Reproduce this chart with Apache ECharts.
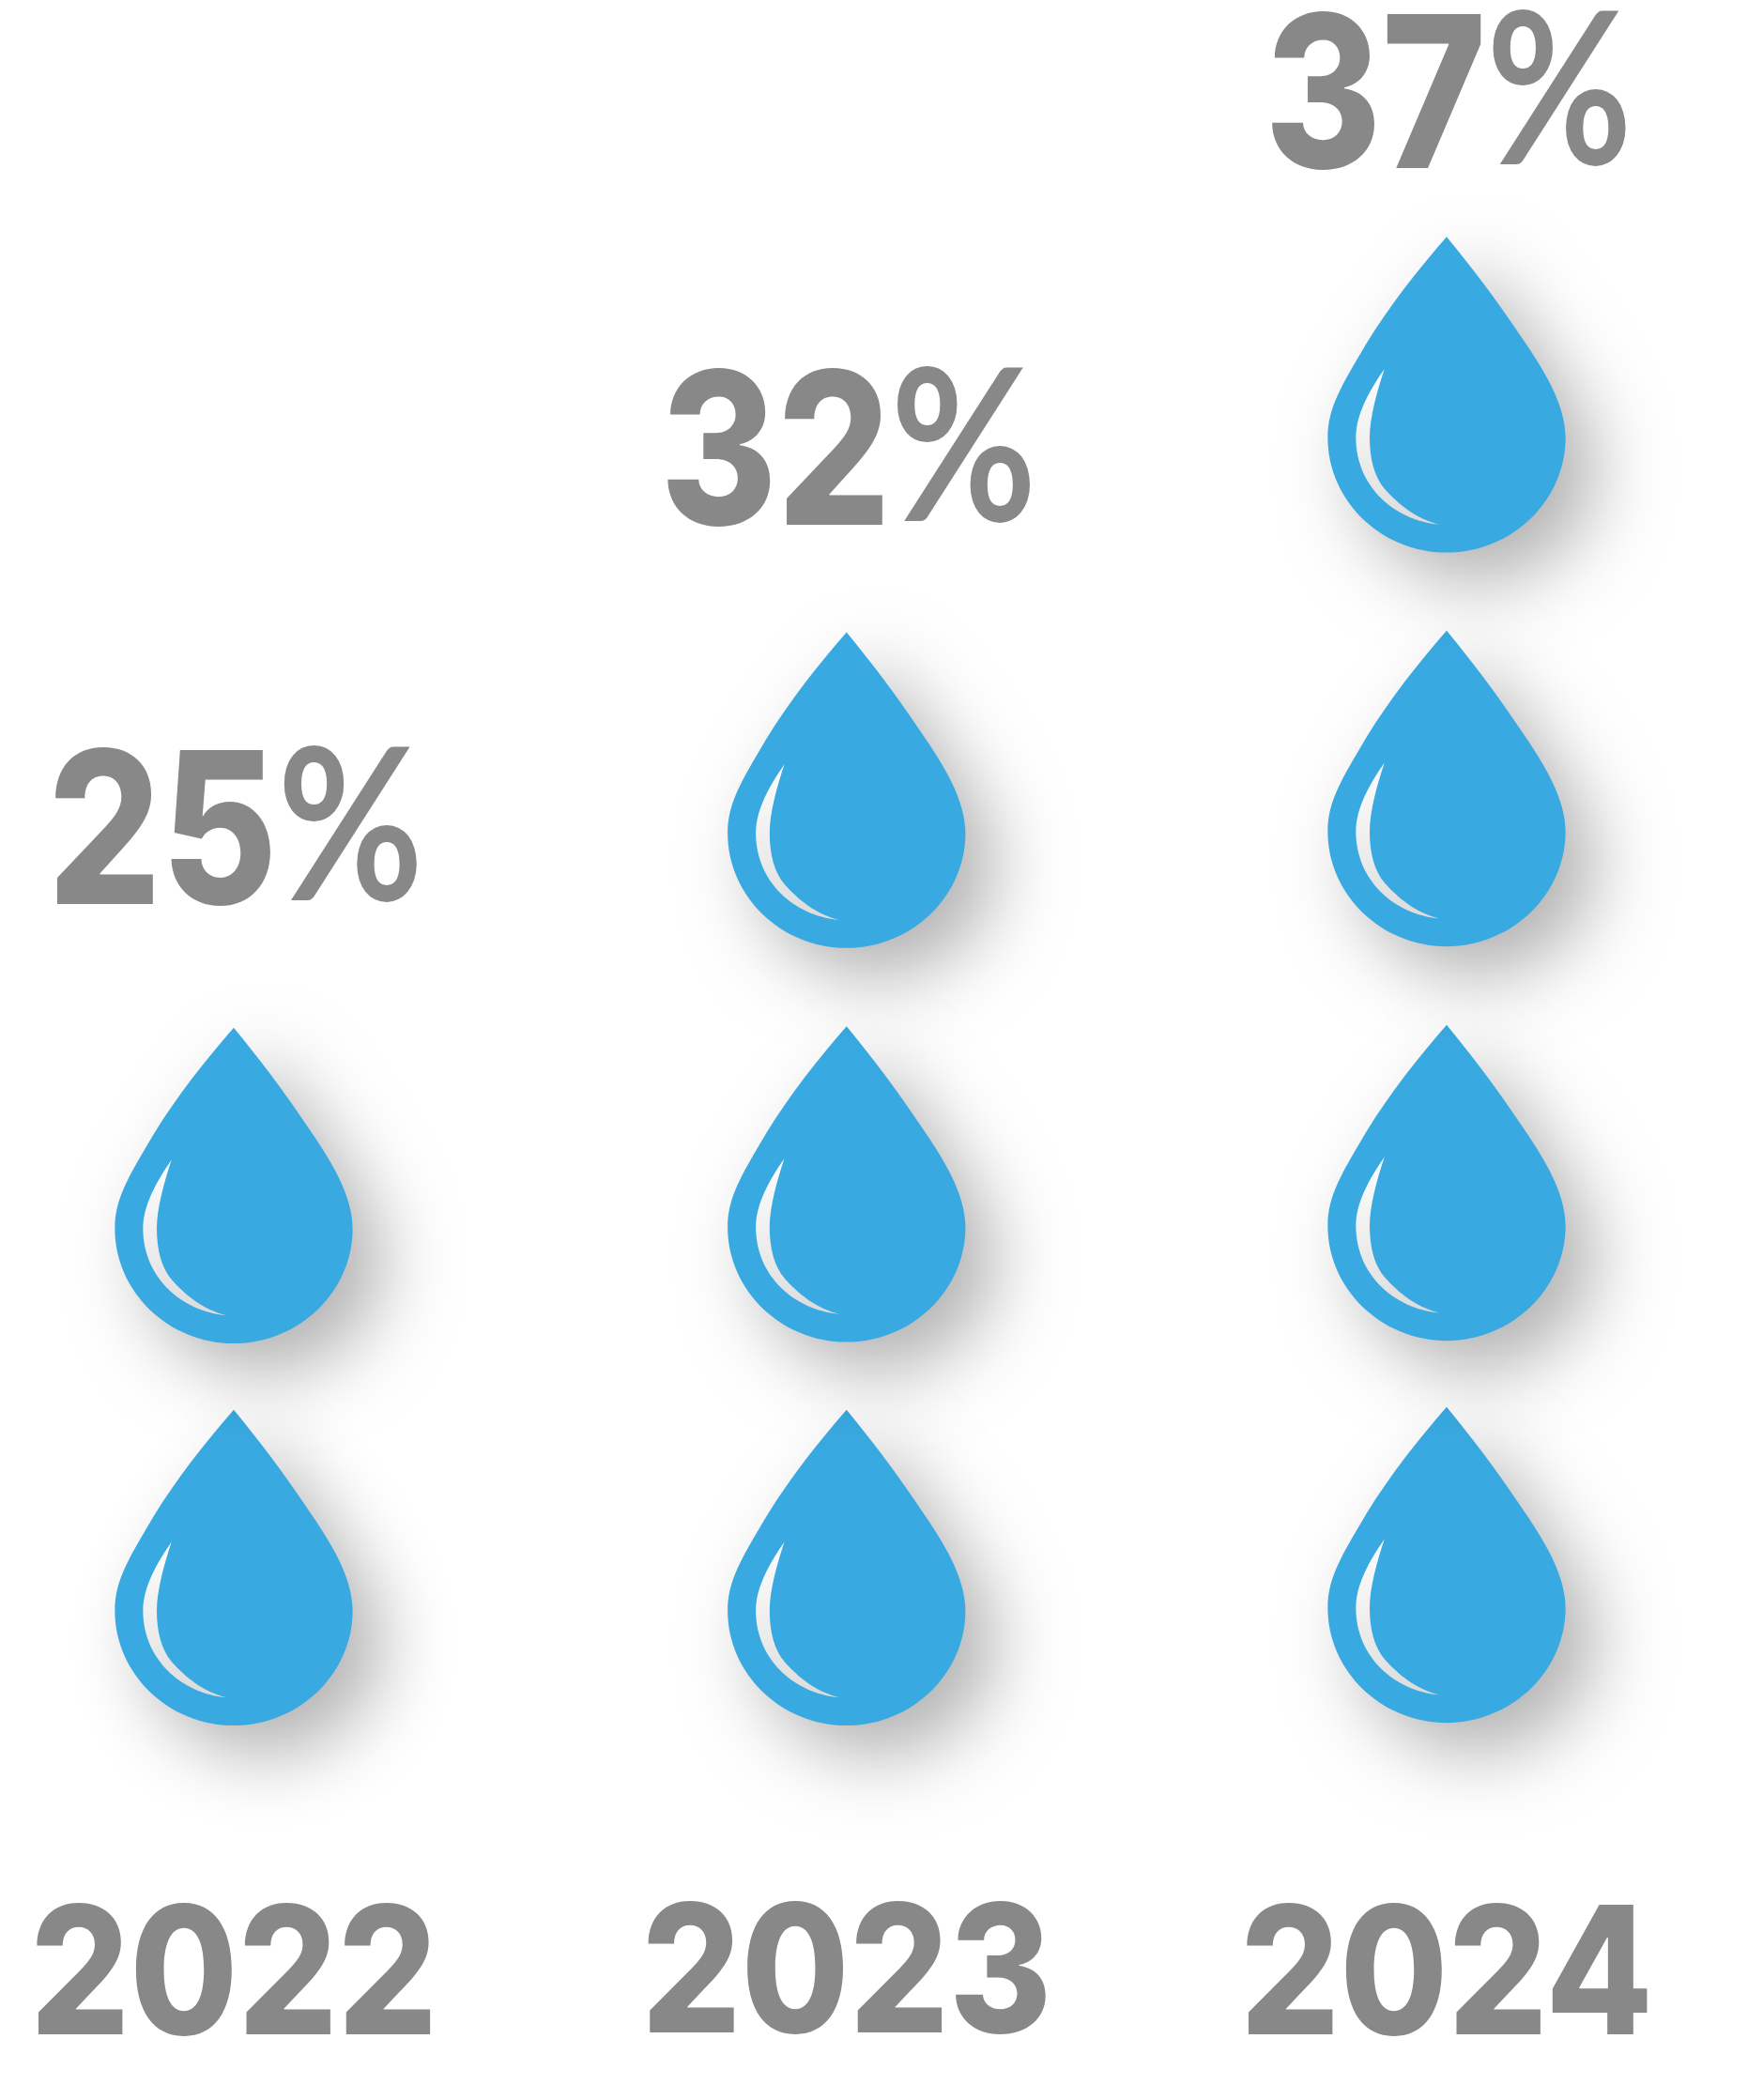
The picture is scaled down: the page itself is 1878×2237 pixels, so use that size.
<!DOCTYPE html>
<html><head><meta charset="utf-8">
<style>html,body{margin:0;padding:0;background:#fff}#c{width:1878px;height:2237px}</style>
<script src="https://cdn.jsdelivr.net/npm/echarts@6/dist/echarts.min.js"></script>
</head><body><div id="c"></div>
<script>
const years = ['2022','2023','2024'];
const percents = [25,32,37];
const columnCenters = [0,1.0105,2];
const dropLevels2022 = [0,1];
const dropLevels2023 = [0,1.0035,2.035];
const dropLevels2024 = [0.007,1.007,2.039,3.07];
const dropLevels = [dropLevels2022,dropLevels2023,dropLevels2024];
const percentLabelLevels = [2.316,3.31,4.244];
const yearLabelLevels = [-0.667,-0.664,-0.667];

const DROP='M447,43 C530,145 600,235 680,355 C760,470 827,580 827,685 C827,885 657,1052 447,1052 C237,1052 67,885 67,685 C67,590 110,520 190,385 C270,255 355,150 447,43 Z';
const SHINE='M248,465 C200,535 157,610 157,685 C157,840 280,950 423,962 C350,945 290,895 250,850 C215,810 201,750 201,685 C201,620 225,535 248,465 Z';
const GREY='#888888', BLUE='#38A9E1';

const data=[];
dropLevels.forEach((lv,c)=>lv.forEach(l=>data.push([columnCenters[c],l])));

const chart=echarts.init(document.getElementById('c'),null,{renderer:'canvas'});
chart.setOption({
  animation:false,backgroundColor:'#fff',
  grid:{left:249,width:1292,top:0,bottom:0},
  xAxis:{type:'value',min:0,max:2,show:false},
  yAxis:{type:'value',min:-399/407,max:1838/407,show:false},
  series:[
  {type:'custom',coordinateSystem:'cartesian2d',data,silent:true,clip:false,
   renderItem(p,api){
     const pt=api.coord([api.value(0),api.value(1)]);
     const w=253.3,h=336.3,x=pt[0]-w/2,y=pt[1]-h;
     return {type:'group',children:[
       {type:'path',shape:{pathData:DROP,x,y,width:w,height:h,layout:'cover'},
        style:{fill:BLUE,shadowColor:'rgba(0,0,0,0.3)',shadowBlur:78,shadowOffsetX:32,shadowOffsetY:32}},
       {type:'path',shape:{pathData:SHINE,x:x+30,y:y+140.7,width:88.7,height:165.7,layout:'cover'},
        style:{fill:new echarts.graphic.LinearGradient(0,0,0.6,1,[{offset:0,color:'#ffffff'},{offset:1,color:'#dcdcdc'}])}}
     ]};
   }},
  {type:'custom',coordinateSystem:'cartesian2d',silent:true,clip:false,
   data:percents.map((v,i)=>[columnCenters[i],percentLabelLevels[i],v]),
   renderItem(p,api){
     const pt=api.coord([api.value(0),api.value(1)]);
     return {type:'text',x:pt[0]+2,y:pt[1],scaleX:0.84,
       style:{text:'{d|'+api.value(2)+'}{p|%}',align:'center',verticalAlign:'middle',
         rich:{d:{font:'800 226px Inter',fill:GREY},p:{font:'700 226px Lato',fill:GREY,padding:[0,0,18,0]}}}};
   }},
  {type:'custom',coordinateSystem:'cartesian2d',silent:true,clip:false,
   data:years.map((v,i)=>[columnCenters[i],yearLabelLevels[i]]),
   renderItem(p,api){
     const pt=api.coord([api.value(0),api.value(1)]);
     return {type:'text',x:pt[0],y:pt[1],scaleX:0.877,
       style:{text:years[p.dataIndex],font:'800 190px Inter',fill:GREY,align:'center',verticalAlign:'middle'}};
   }}
  ]
});
</script></body></html>
